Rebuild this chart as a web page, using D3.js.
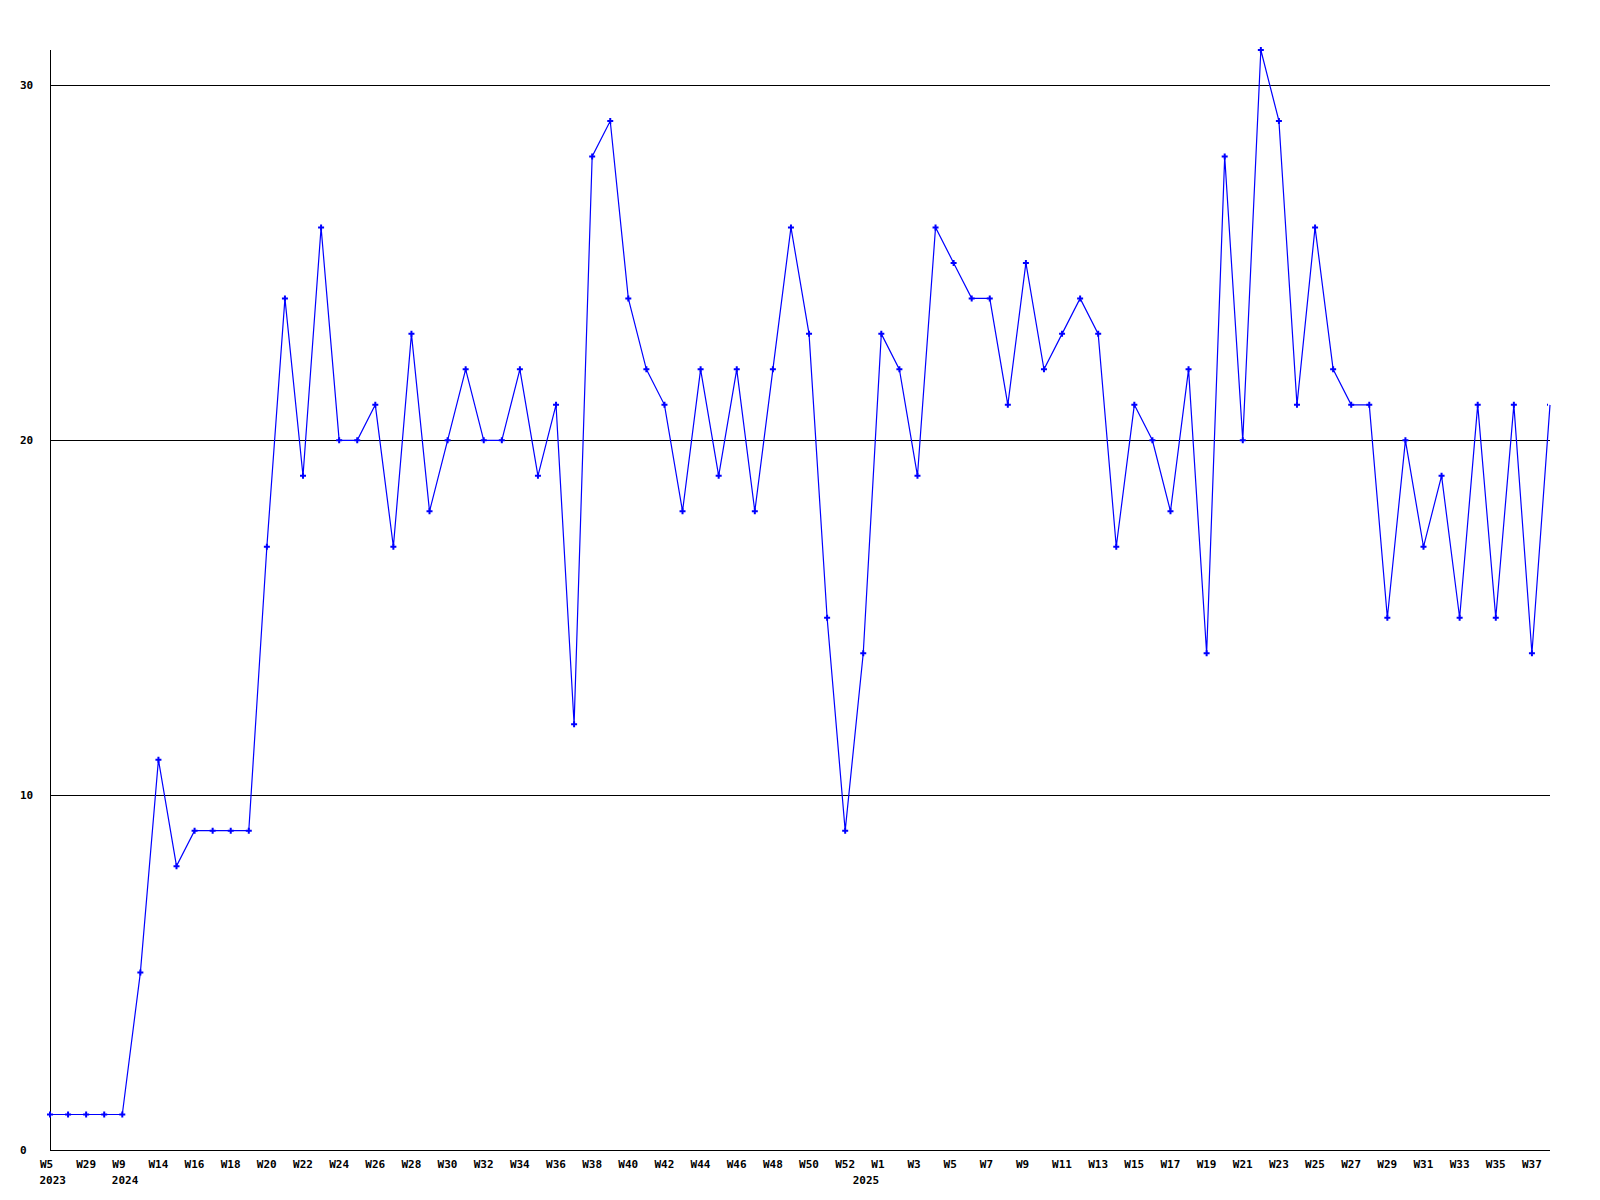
<!DOCTYPE html>
<html>
<head>
<meta charset="utf-8">
<script src="https://cdn.jsdelivr.net/npm/d3@7"></script>
<style>
  html, body { margin: 0; padding: 0; background: #fff; }
  svg text { font-family: "DejaVu Sans Mono", "Liberation Mono", monospace; font-weight: bold; font-size: 11px; fill: #000; }
</style>
</head>
<body>
<svg id="chart" width="1600" height="1200"></svg>
<script>
// ---- data ----
const weeks = ["W5","W17","W29","W45","W9","W11","W14","W15","W16","W17","W18","W19","W20","W21","W22","W23","W24","W25","W26","W27","W28","W29","W30","W31","W32","W33","W34","W35","W36","W37","W38","W39","W40","W41","W42","W43","W44","W45","W46","W47","W48","W49","W50","W51","W52","W0","W1","W2","W3","W4","W5","W6","W7","W8","W9","W10","W11","W12","W13","W14","W15","W16","W17","W18","W19","W20","W21","W22","W23","W24","W25","W26","W27","W28","W29","W30","W31","W32","W33","W34","W35","W36","W37","W38"];
const yearLabels = [[0, "2023"], [4, "2024"], [45, "2025"]];
const values = [1,1,1,1,1,5,11,8,9,9,9,9,17,24,19,26,20,20,21,17,23,18,20,22,20,20,22,19,21,12,28,29,24,22,21,18,22,19,22,18,22,26,23,15,9,14,23,22,19,26,25,24,24,21,25,22,23,24,23,17,21,20,18,22,14,28,20,31,29,21,26,22,21,21,15,20,17,19,15,21,15,21,14,21];
const yTicks = [0, 10, 20, 30];
const yMax = 31;

(function () {
  // ---- layout ----
  const pLeft = 50, pRight = 1550, pTop = 50, pBottom = 1150;
  const svg = d3.select("#chart");

  const x = d3.scaleLinear().domain([0, values.length - 1]).range([pLeft, pRight]);
  const y = d3.scaleLinear().domain([0, yMax]).range([pBottom, pTop]);

  // grid lines
  svg.append("g").selectAll("line").data(yTicks.filter(t => t > 0)).join("line")
    .attr("x1", pLeft).attr("x2", pRight)
    .attr("y1", d => Math.round(y(d)) + 0.5).attr("y2", d => Math.round(y(d)) + 0.5)
    .attr("stroke", "#000").attr("stroke-width", 1).attr("shape-rendering", "crispEdges");

  // y axis labels
  svg.append("g").selectAll("text").data(yTicks).join("text")
    .attr("x", 20).attr("y", d => y(d) + 4)
    .text(d => d);

  // axes lines
  svg.append("line").attr("x1", pLeft + 0.5).attr("x2", pLeft + 0.5).attr("y1", pTop).attr("y2", pBottom)
    .attr("stroke", "#000").attr("shape-rendering", "crispEdges");
  svg.append("line").attr("x1", pLeft).attr("x2", pRight).attr("y1", pBottom + 0.5).attr("y2", pBottom + 0.5)
    .attr("stroke", "#000").attr("shape-rendering", "crispEdges");

  // x labels (every other category), left-aligned slightly before the point
  const shown = d3.range(0, values.length, 2);
  const xAxis = d3.axisBottom(x).tickValues(shown).tickFormat(i => weeks[i]).tickSize(0).tickPadding(0);
  const gx = svg.append("g").attr("transform", `translate(0,${pBottom})`).call(xAxis);
  gx.select(".domain").remove();
  gx.attr("font-family", null).attr("font-size", null).attr("text-anchor", "start");
  gx.selectAll("text").attr("dy", null).attr("y", 18).attr("x", -10.5);

  svg.append("g").selectAll("text").data(yearLabels).join("text")
    .attr("x", d => x(d[0]) - 10.5).attr("y", pBottom + 34).attr("text-anchor", "start")
    .text(d => d[1]);

  // clip for markers at the right edge
  svg.append("defs").append("clipPath").attr("id", "clip")
    .append("rect").attr("x", pLeft - 5).attr("y", 0).attr("width", pRight - pLeft + 3).attr("height", 1200);

  const line = d3.line().x((d, i) => x(i)).y(d => y(d));
  svg.append("path").datum(values).attr("d", line)
    .attr("fill", "none").attr("stroke", "#0000ff").attr("stroke-width", 1.2);

  // markers
  const sym = d3.symbol().type(d3.symbolCross).size(20);
  svg.append("g").attr("clip-path", "url(#clip)").selectAll("path").data(values).join("path")
    .attr("transform", (d, i) => `translate(${x(i)},${y(d)})`)
    .attr("d", sym).attr("fill", "#0000ff");
})();
</script>
</body>
</html>
